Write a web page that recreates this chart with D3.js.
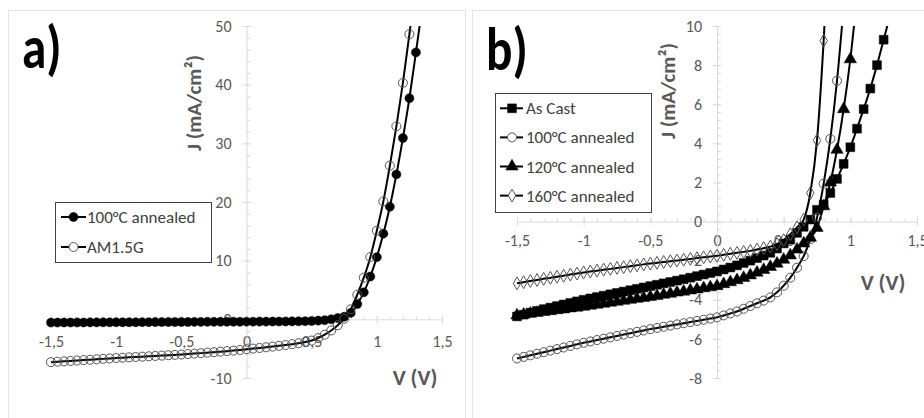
<!DOCTYPE html>
<html>
<head>
<meta charset="utf-8">
<script src="https://cdn.jsdelivr.net/npm/d3@7"></script>
<style>
  body { margin: 0; background: #fff; }
  svg { display: block; }
</style>
</head>
<body>
<svg id="chart" width="924" height="418"></svg>
<script>
// ---- data ----
// common voltage grid, V
const voltage = [
  -1.5, -1.45, -1.4, -1.35, -1.3, -1.25, -1.2, -1.15, -1.1, -1.05,
  -1, -0.95, -0.9, -0.85, -0.8, -0.75, -0.7, -0.65, -0.6, -0.55,
  -0.5, -0.45, -0.4, -0.35, -0.3, -0.25, -0.2, -0.15, -0.1, -0.05,
  0, 0.05, 0.1, 0.15, 0.2, 0.25, 0.3, 0.35, 0.4, 0.45,
  0.5, 0.55, 0.6, 0.65, 0.7, 0.75, 0.8, 0.85, 0.9, 0.95,
  1, 1.05, 1.1, 1.15, 1.2, 1.25, 1.3
];

// panel a) current density, mA/cm2
const jA_annealed100 = [
  -0.55, -0.55, -0.54, -0.54, -0.53, -0.53, -0.52, -0.52, -0.51, -0.51,
  -0.50, -0.50, -0.49, -0.49, -0.48, -0.48, -0.47, -0.47, -0.46, -0.46,
  -0.45, -0.45, -0.44, -0.44, -0.43, -0.43, -0.42, -0.42, -0.41, -0.41,
  -0.40, -0.40, -0.39, -0.39, -0.38, -0.37, -0.36, -0.35, -0.33, -0.31,
  -0.28, -0.22, -0.14, 0.00, 0.22, 0.45, 1.10, 2.60, 4.60, 7.30,
  10.6, 14.6, 19.2, 24.7, 30.9, 37.7, 45.5
];
const jA_am15g = [
  -7.30, -7.23, -7.16, -7.09, -7.02, -6.95, -6.88, -6.81, -6.74, -6.67,
  -6.60, -6.54, -6.48, -6.42, -6.36, -6.30, -6.24, -6.18, -6.12, -6.06,
  -6.00, -5.92, -5.84, -5.76, -5.68, -5.60, -5.51, -5.42, -5.33, -5.22,
  -5.10, -4.99, -4.88, -4.77, -4.65, -4.52, -4.38, -4.23, -4.07, -3.86,
  -3.62, -3.20, -2.62, -1.90, -1.00, 0.10, 1.70, 4.20, 7.10, 10.6,
  15.1, 20.1, 26.2, 32.9, 40.3, 48.6
];
// where the drawn curve leaves the plot after the last marker [V, J]
const tailA_annealed100 = [1.35, 53.5];
const tailA_am15g = [1.3, 57.5];

// panel b)
const jB_asCast = [
  -4.85, -4.76, -4.66, -4.57, -4.48, -4.40, -4.32, -4.24, -4.16, -4.08,
  -4.00, -3.93, -3.86, -3.79, -3.72, -3.65, -3.58, -3.51, -3.44, -3.37,
  -3.30, -3.23, -3.16, -3.09, -3.02, -2.95, -2.87, -2.79, -2.71, -2.63,
  -2.55, -2.45, -2.35, -2.24, -2.12, -2.00, -1.87, -1.74, -1.60, -1.38,
  -1.12, -0.92, -0.58, -0.27, 0.10, 0.60, 0.87, 1.46, 2.18, 2.95,
  3.80, 4.75, 5.75, 6.80, 8.00, 9.30
];
const jB_annealed100 = [
  -7.00, -6.92, -6.84, -6.76, -6.68, -6.60, -6.52, -6.44, -6.36, -6.28,
  -6.20, -6.13, -6.06, -5.99, -5.92, -5.85, -5.78, -5.71, -5.64, -5.57,
  -5.50, -5.44, -5.38, -5.32, -5.26, -5.20, -5.14, -5.08, -5.02, -4.96,
  -4.90, -4.80, -4.70, -4.60, -4.46, -4.32, -4.18, -4.04, -3.88, -3.62,
  -3.28, -2.87, -2.36, -1.77, -0.90, 0.20, 1.94, 4.23, 7.20
];
const jB_annealed120 = [
  -4.80, -4.76, -4.71, -4.67, -4.62, -4.58, -4.53, -4.49, -4.44, -4.40,
  -4.35, -4.30, -4.25, -4.20, -4.15, -4.10, -4.05, -4.00, -3.95, -3.90,
  -3.85, -3.80, -3.74, -3.69, -3.63, -3.58, -3.52, -3.47, -3.41, -3.36,
  -3.30, -3.20, -3.10, -3.00, -2.88, -2.75, -2.61, -2.47, -2.32, -2.15,
  -1.95, -1.73, -1.43, -1.12, -0.83, -0.32, 0.78, 2.00, 3.67, 5.75,
  8.30
];
const jB_annealed160 = [
  -3.16, -3.10, -3.04, -2.99, -2.93, -2.88, -2.82, -2.77, -2.71, -2.66,
  -2.60, -2.55, -2.51, -2.46, -2.42, -2.37, -2.33, -2.28, -2.24, -2.19,
  -2.15, -2.11, -2.07, -2.03, -1.99, -1.95, -1.91, -1.87, -1.83, -1.79,
  -1.75, -1.70, -1.65, -1.60, -1.55, -1.50, -1.43, -1.36, -1.28, -1.15,
  -0.95, -0.65, -0.30, 0.10, 1.46, 4.15, 9.25
];
const tailB_asCast = [1.3, 10.6];
const tailB_annealed100 = [0.95, 11.0];
const tailB_annealed120 = [1.05, 11.5];
const tailB_annealed160 = [0.85, 16];

const xTicks = [-1.5, -1, -0.5, 0, 0.5, 1, 1.5];
const yTicksA = [-10, 0, 10, 20, 30, 40, 50];
const yTicksB = [-8, -6, -4, -2, 0, 2, 4, 6, 8, 10];

// ---- drawing ----
const FONT = "Calibri, Carlito, Lato, sans-serif";
const AXIS_GREY = "#d9d9d9";
const TEXT_GREY = "#595959";

const svg = d3.select("#chart").attr("font-family", FONT);
const fmt = d => String(d).replace(".", ",");

function drawPanel(p) {
  const g = svg.append("g").attr("class", p.id);

  g.append("rect")
    .attr("x", p.frame[0] + 0.5).attr("y", p.frame[1] + 0.5)
    .attr("width", p.frame[2]).attr("height", p.frame[3])
    .attr("fill", "none").attr("stroke", "#e3e3e3");

  const x = d3.scaleLinear().domain([-1.5, 1.5]).range(p.xRange);
  const y = d3.scaleLinear().domain(p.yDomain).range(p.yRange);

  const minorX = d3.range(-1.5, 1.5001, 0.1).map(v => +v.toFixed(2));
  const minorY = d3.range(p.yDomain[0], p.yDomain[1] + 1e-6, p.yMinor).map(v => +v.toFixed(2));

  // x axis minor (upwards)
  g.append("g").attr("transform", `translate(0,${y(0)})`)
    .call(d3.axisTop(x).tickValues(minorX).tickSize(3).tickFormat(""))
    .call(s => s.select(".domain").remove())
    .call(s => s.selectAll("line").attr("stroke", AXIS_GREY));

  // y axis minor (right)
  g.append("g").attr("transform", `translate(${x(0)},0)`)
    .call(d3.axisRight(y).tickValues(minorY).tickSize(4).tickFormat(""))
    .call(s => s.select(".domain").remove())
    .call(s => s.selectAll("line").attr("stroke", AXIS_GREY));

  const xa = g.append("g").attr("class", "x axis")
    .attr("transform", `translate(0,${y(0)})`)
    .call(d3.axisBottom(x).tickValues(xTicks).tickSize(4).tickSizeOuter(0)
      .tickPadding(p.xPad).tickFormat(fmt));
  xa.selectAll(".tick line").attr("y1", -4);

  const ya = g.append("g").attr("class", "y axis")
    .attr("transform", `translate(${x(0)},0)`)
    .call(d3.axisLeft(y).tickValues(p.yTicks).tickSize(4).tickSizeOuter(0)
      .tickPadding(11).tickFormat(fmt));
  ya.selectAll(".tick line").attr("x1", 4);

  [xa, ya].forEach(a => {
    a.attr("font-family", FONT).attr("font-size", 16);
    a.select(".domain").attr("stroke", AXIS_GREY);
    a.selectAll(".tick line").attr("stroke", AXIS_GREY);
    a.selectAll(".tick text").attr("fill", TEXT_GREY);
  });

  // axis titles
  g.append("text")
    .attr("transform", `translate(${p.jTitle[0]},${p.jTitle[1]}) rotate(-90)`)
    .attr("text-anchor", "middle")
    .attr("font-weight", "bold").attr("font-size", 21).attr("fill", TEXT_GREY)
    .text("J (mA/cm²)");
  g.append("text")
    .attr("x", p.vTitle[0]).attr("y", p.vTitle[1])
    .attr("text-anchor", "middle")
    .attr("font-weight", "bold").attr("font-size", 22).attr("fill", TEXT_GREY)
    .text("V (V)");

  // data
  const clipId = p.id + "-clip";
  g.append("clipPath").attr("id", clipId)
    .append("rect")
    .attr("x", p.xRange[0] - 10).attr("y", p.yRange[1])
    .attr("width", p.xRange[1] - p.xRange[0] + 20)
    .attr("height", p.yRange[0] - p.yRange[1]);

  const plot = g.append("g").attr("clip-path", `url(#${clipId})`);
  const line = d3.line().x(d => x(d[0])).y(d => y(d[1])).curve(d3.curveMonotoneX);

  p.series.forEach(s => {
    const pts = s.j.map((v, i) => [voltage[i], v]);
    plot.append("path")
      .datum(pts.concat([s.tail]))
      .attr("d", line)
      .attr("fill", "none").attr("stroke", "#000").attr("stroke-width", 2);
  });
  p.series.forEach(s => {
    const pts = s.j.map((v, i) => [voltage[i], v]);
    plot.append("g").selectAll("path")
      .data(pts).join("path")
      .attr("transform", d => `translate(${x(d[0])},${y(d[1])})`)
      .attr("d", d3.symbol().type(s.symbol).size(s.size))
      .attr("fill", s.filled ? "#000" : "none")
      .attr("stroke", s.filled ? "#000" : "#555")
      .attr("stroke-width", s.filled ? 0.5 : 1);
  });

  // legend
  const lg = g.append("g");
  const lb = p.legend;
  lg.append("rect")
    .attr("x", lb.box[0] + 0.5).attr("y", lb.box[1] + 0.5)
    .attr("width", lb.box[2]).attr("height", lb.box[3])
    .attr("fill", "#fff").attr("stroke", "#404040");
  p.series.forEach((s, i) => {
    const ry = lb.rowY + i * lb.rowH;
    lg.append("line")
      .attr("x1", lb.lineX[0]).attr("x2", lb.lineX[1])
      .attr("y1", ry).attr("y2", ry)
      .attr("stroke", "#000").attr("stroke-width", 2);
    lg.append("path")
      .attr("transform", `translate(${lb.markX},${ry})`)
      .attr("d", d3.symbol().type(s.symbol).size(s.size))
      .attr("fill", s.filled ? "#000" : "#fff")
      .attr("stroke", s.filled ? "#000" : "#555")
      .attr("stroke-width", s.filled ? 0.5 : 1);
    lg.append("text")
      .attr("x", lb.textX).attr("y", ry + 6)
      .attr("font-size", 17).attr("fill", "#404040")
      .text(s.name);
  });

  // panel letter
  g.append("text")
    .attr("transform", `translate(${p.letterPos[0]},${p.letterPos[1]}) scale(0.82,1)`)
    .attr("font-weight", "bold").attr("font-size", 60).attr("fill", "#000")
    .text(p.letter);
}

drawPanel({
  id: "panel-a", letter: "a)", letterPos: [22, 68],
  frame: [8, 10, 457, 420],
  xRange: [51, 442], yDomain: [-10, 50], yRange: [378, 26],
  yTicks: yTicksA, yMinor: 2, xPad: 12,
  jTitle: [201, 103], vTitle: [415, 385],
  legend: { box: [55, 202, 156, 60], rowY: 217, rowH: 30, lineX: [61, 86], markX: 73.5, textX: 87 },
  series: [
    { name: "100°C annealed", j: jA_annealed100, tail: tailA_annealed100, symbol: d3.symbolCircle, size: 64, filled: true },
    { name: "AM1.5G", j: jA_am15g, tail: tailA_am15g, symbol: d3.symbolCircle, size: 64, filled: false }
  ]
});

drawPanel({
  id: "panel-b", letter: "b)", letterPos: [486, 70],
  frame: [472, 10, 460, 420],
  xRange: [517, 917], yDomain: [-8, 10], yRange: [378, 26],
  yTicks: yTicksB, yMinor: 0.4, xPad: 9,
  jTitle: [675, 91], vTitle: [883, 290],
  legend: { box: [495, 93, 156, 119], rowY: 108.3, rowH: 29.1, lineX: [500, 523], markX: 512, textX: 526 },
  series: [
    { name: "As Cast", j: jB_asCast, tail: tailB_asCast, symbol: d3.symbolSquare, size: 78, filled: true },
    { name: "100°C annealed", j: jB_annealed100, tail: tailB_annealed100, symbol: d3.symbolCircle, size: 64, filled: false },
    { name: "120°C annealed", j: jB_annealed120, tail: tailB_annealed120, symbol: d3.symbolTriangle, size: 66, filled: true },
    { name: "160°C annealed", j: jB_annealed160, tail: tailB_annealed160, symbol: d3.symbolDiamond, size: 48, filled: false }
  ]
});
</script>
</body>
</html>
